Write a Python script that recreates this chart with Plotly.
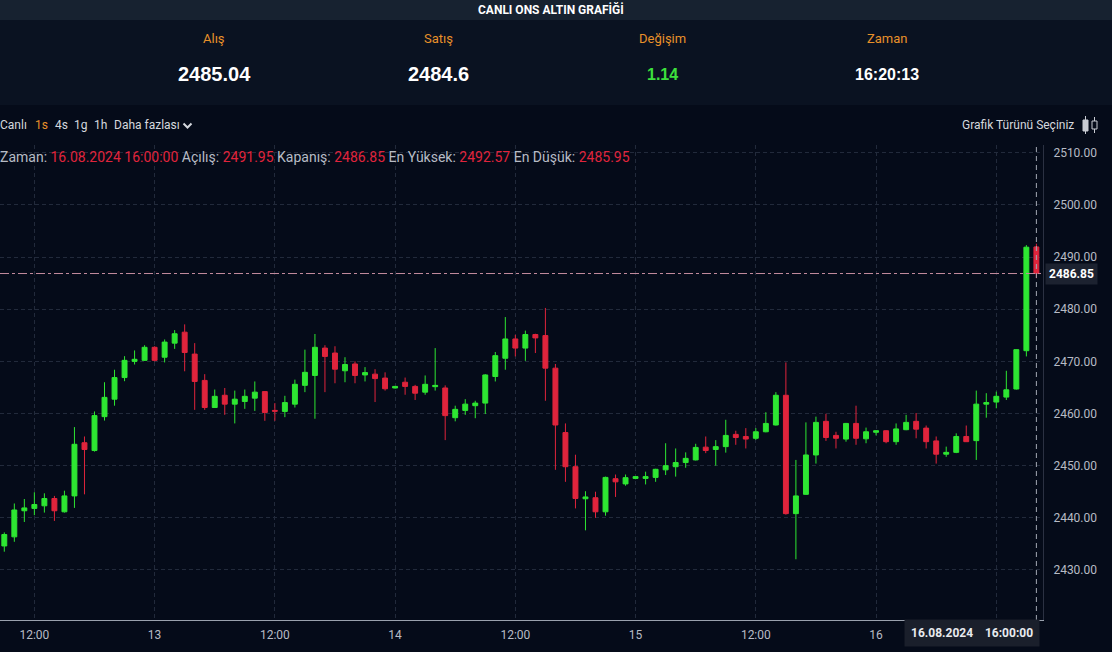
import plotly.graph_objects as go
import pandas as pd

W, H = 1112, 652

# ---------------- data ----------------
times = pd.date_range("2024-08-12 09:00", periods=104, freq="h")

opens = [2434.6, 2436.35, 2441.35, 2441.8, 2442.3, 2443.7, 2441.15, 2444.2, 2454.4, 2452.9,
         2459.4, 2462.75, 2466.9, 2470.0, 2470.2, 2472.7, 2470.8, 2473.5, 2475.6, 2471.4,
         2466.35, 2461.15, 2463.5, 2461.8, 2462.3, 2462.95, 2464.2, 2460.6, 2460.4, 2461.8,
         2465.4, 2467.3, 2472.55, 2471.6, 2468.2, 2469.5, 2467.4, 2467.55, 2466.8, 2464.9,
         2466.0, 2465.2, 2464.1, 2465.15, 2464.9, 2459.2, 2460.6, 2461.5, 2462.0, 2467.1,
         2470.6, 2474.3, 2472.55, 2475.15, 2474.95, 2468.7, 2456.35, 2449.8, 2443.65, 2443.85,
         2441.15, 2447.5, 2446.5, 2447.55, 2447.55, 2447.75, 2449.2, 2449.8, 2450.6, 2451.1,
         2453.55, 2453.1, 2453.65, 2456.0, 2455.6, 2455.25, 2456.5, 2457.8, 2463.5, 2440.8,
         2444.5, 2452.05, 2458.5, 2455.8, 2455.1, 2458.1, 2455.15, 2456.4, 2456.7, 2454.6,
         2456.9, 2458.5, 2457.2, 2454.75, 2452.2, 2452.55, 2455.6, 2454.8, 2461.8, 2462.2,
         2463.15, 2464.7, 2472.05, 2491.95]
highs = [2437.2, 2442.75, 2443.6, 2444.9, 2444.7, 2444.2, 2445.2, 2457.4, 2455.6, 2460.4,
         2466.0, 2468.4, 2471.0, 2472.1, 2473.1, 2472.9, 2474.2, 2476.0, 2477.1, 2473.5,
         2467.55, 2464.6, 2464.9, 2464.4, 2464.6, 2466.15, 2464.3, 2462.0, 2463.4, 2466.5,
         2472.25, 2475.25, 2473.1, 2472.9, 2470.8, 2470.0, 2468.9, 2468.5, 2467.9, 2465.3,
         2466.9, 2465.5, 2467.3, 2472.55, 2465.4, 2461.5, 2462.75, 2462.45, 2467.55, 2471.8,
         2478.5, 2475.1, 2475.9, 2475.3, 2480.25, 2469.5, 2458.1, 2452.1, 2445.1, 2445.0,
         2447.9, 2448.3, 2448.3, 2448.0, 2448.85, 2449.4, 2454.3, 2453.3, 2452.55, 2454.2,
         2455.6, 2454.9, 2458.8, 2456.7, 2457.2, 2457.2, 2460.25, 2464.1, 2469.8, 2451.1,
         2458.3, 2459.4, 2459.95, 2456.5, 2458.2, 2461.5, 2457.3, 2456.8, 2456.8, 2458.1,
         2459.75, 2460.1, 2457.7, 2455.6, 2453.65, 2456.2, 2457.7, 2464.4, 2463.9, 2464.2,
         2468.2, 2472.3, 2492.3, 2492.57]
lows = [2433.5, 2435.4, 2439.2, 2440.5, 2441.0, 2439.4, 2441.0, 2441.9, 2444.5, 2452.7,
        2458.65, 2461.5, 2466.2, 2469.4, 2470.1, 2470.0, 2469.8, 2472.4, 2468.1, 2460.7,
        2460.7, 2461.1, 2459.75, 2458.1, 2460.9, 2460.5, 2458.6, 2458.6, 2459.3, 2461.15,
        2464.1, 2459.0, 2464.1, 2465.8, 2466.0, 2465.8, 2466.15, 2462.2, 2464.4, 2464.8,
        2463.6, 2462.6, 2463.6, 2464.4, 2454.9, 2458.5, 2459.75, 2459.1, 2459.9, 2466.15,
        2468.4, 2470.95, 2470.1, 2471.6, 2462.45, 2449.2, 2446.9, 2441.8, 2437.6, 2440.0,
        2440.4, 2444.0, 2446.15, 2447.4, 2446.4, 2446.9, 2448.2, 2447.9, 2449.6, 2451.0,
        2452.4, 2450.0, 2452.5, 2454.0, 2453.3, 2454.95, 2456.4, 2457.7, 2440.6, 2432.05,
        2444.4, 2450.4, 2454.75, 2453.3, 2454.6, 2454.0, 2454.3, 2455.8, 2454.3, 2454.0,
        2456.8, 2455.25, 2453.3, 2450.4, 2451.7, 2452.4, 2454.6, 2451.1, 2459.2, 2461.0,
        2462.6, 2464.6, 2470.95, 2485.95]
closes = [2436.8, 2441.5, 2441.9, 2442.55, 2443.7, 2441.35, 2444.2, 2454.1, 2453.1, 2459.6,
          2463.1, 2466.9, 2470.2, 2470.4, 2472.7, 2470.2, 2473.7, 2475.3, 2471.7, 2466.15,
          2461.15, 2463.3, 2461.8, 2462.75, 2463.3, 2464.1, 2460.2, 2460.45, 2462.1, 2465.6,
          2467.9, 2472.7, 2470.95, 2468.5, 2469.4, 2467.3, 2467.85, 2466.7, 2464.75, 2465.2,
          2465.2, 2463.9, 2465.6, 2465.4, 2459.6, 2460.8, 2461.8, 2462.0, 2467.4, 2471.1,
          2474.3, 2472.55, 2475.15, 2474.5, 2468.7, 2457.8, 2449.8, 2443.7, 2444.0, 2441.15,
          2447.75, 2446.9, 2447.7, 2447.9, 2447.9, 2449.3, 2450.0, 2450.6, 2451.4, 2453.5,
          2452.9, 2453.65, 2455.8, 2455.4, 2455.1, 2456.5, 2458.1, 2463.5, 2440.8, 2444.2,
          2452.05, 2458.3, 2455.4, 2455.25, 2458.1, 2455.25, 2456.5, 2456.7, 2454.6, 2457.05,
          2458.3, 2457.0, 2454.6, 2452.2, 2452.55, 2455.6, 2454.6, 2461.8, 2462.1, 2463.3,
          2464.55, 2472.25, 2491.9, 2486.85]

# last tick (16th 12:00) is hidden behind the crosshair time label in the reference
x_tick_vals = ["2024-08-12 12:00", "2024-08-13 00:00", "2024-08-13 12:00", "2024-08-14 00:00",
               "2024-08-14 12:00", "2024-08-15 00:00", "2024-08-15 12:00", "2024-08-16 00:00",
               "2024-08-16 12:00"]
x_tick_text = ["12:00", "13", "12:00", "14", "12:00", "15", "12:00", "16", ""]
price_ticks = [2430, 2440, 2450, 2460, 2470, 2480, 2490, 2500, 2510]

header_labels = ["Alış", "Satış", "Değişim", "Zaman"]
header_values = ["2485.04", "2484.6", "1.14", "16:20:13"]
header_title = "CANLI ONS ALTIN GRAFİĞİ"
toolbar_items = ["Canlı", "1s", "4s", "1g", "1h", "Daha fazlası"]

last_time_text = "16.08.2024 16:00:00"
last_open, last_close, last_high, last_low = "2491.95", "2486.85", "2492.57", "2485.95"

# ---------------- style ----------------
BG = "#050b19"
HEADER_BG = "#172230"
INFO_BG = "#0a1221"
GREEN = "#2ee632"
RED = "#e0243c"
ORANGE = "#e8912a"
TXT = "#b7bbc5"
GRID = "#222a3b"
FONT = "Roboto, Liberation Sans, DejaVu Sans, sans-serif"
NARROW = "Liberation Sans Narrow, Roboto, sans-serif"


def X(px):
    return px / W


def Y(py):
    return 1 - py / H


plot_left, plot_right = 0, 1043
plot_top, plot_bottom = 145, 620

fig = go.Figure(go.Candlestick(
    x=times, open=opens, high=highs, low=lows, close=closes,
    increasing=dict(line=dict(color=GREEN, width=1), fillcolor=GREEN),
    decreasing=dict(line=dict(color=RED, width=1), fillcolor=RED),
    whiskerwidth=0, showlegend=False, hoverinfo="skip",
))

t0 = times[0]
x_range = [t0 - pd.Timedelta(hours=0.43), t0 + pd.Timedelta(hours=103.66)]

fig.update_layout(
    width=W, height=H,
    margin=dict(l=0, r=0, t=0, b=0),
    paper_bgcolor=BG, plot_bgcolor="rgba(0,0,0,0)",
    font=dict(family=FONT, color=TXT, size=12),
    xaxis=dict(
        domain=[X(plot_left), X(plot_right)], type="date", range=x_range,
        rangeslider=dict(visible=False),
        tickmode="array", tickvals=x_tick_vals, ticktext=x_tick_text,
        showgrid=True, gridcolor=GRID, griddash="4px,3px", gridwidth=1,
        showline=True, linecolor="#9aa1ad", linewidth=1,
        ticks="", ticklabelstandoff=4, tickfont=dict(size=12, color=TXT, family=FONT),
        zeroline=False, fixedrange=True,
    ),
    yaxis=dict(
        domain=[Y(plot_bottom), Y(plot_top)], side="right", range=[2420.4, 2511.5],
        tickmode="array", tickvals=price_ticks, tickformat=".2f",
        showgrid=True, gridcolor=GRID, griddash="4px,3px", gridwidth=1,
        showline=True, linecolor="#2b3142", linewidth=1,
        ticks="", ticklabelstandoff=7, tickfont=dict(size=12, color=TXT, family=FONT),
        zeroline=False, fixedrange=True,
    ),
)

shapes = [
    # header bar
    dict(type="rect", xref="paper", yref="paper", x0=0, x1=1, y0=Y(20), y1=1,
         fillcolor=HEADER_BG, line=dict(width=0), layer="below"),
    # info panel
    dict(type="rect", xref="paper", yref="paper", x0=0, x1=1, y0=Y(105), y1=Y(20),
         fillcolor=INFO_BG, line=dict(width=0), layer="below"),
    # crosshair vertical
    dict(type="line", xref="x", yref="paper", x0=times[-1], x1=times[-1],
         y0=Y(plot_bottom), y1=Y(plot_top), line=dict(color="#a3a8b3", width=1, dash="5px,4px")),
    # crosshair horizontal at last close
    dict(type="line", xref="paper", yref="y", x0=X(plot_left), x1=X(plot_right),
         y0=float(last_close), y1=float(last_close),
         line=dict(color="#c48c9e", width=1, dash="dashdot")),
    # chevron next to "Daha fazlası"
    dict(type="path", xref="paper", yref="paper",
         path=f"M {X(183.5)},{Y(123.5)} L {X(187.5)},{Y(127.5)} L {X(191.5)},{Y(123.5)}",
         line=dict(color="#d5d8de", width=2)),
    # chart-type icon: filled candle
    dict(type="line", xref="paper", yref="paper", x0=X(1085.5), x1=X(1085.5), y0=Y(116), y1=Y(134),
         line=dict(color="#c9ccd3", width=1)),
    dict(type="rect", xref="paper", yref="paper", x0=X(1083), x1=X(1088), y0=Y(131), y1=Y(120),
         fillcolor="#c9ccd3", line=dict(color="#c9ccd3", width=1)),
    # chart-type icon: hollow candle
    dict(type="line", xref="paper", yref="paper", x0=X(1094.5), x1=X(1094.5), y0=Y(117), y1=Y(133),
         line=dict(color="#c9ccd3", width=1)),
    dict(type="rect", xref="paper", yref="paper", x0=X(1092), x1=X(1097), y0=Y(129), y1=Y(121),
         fillcolor=BG, line=dict(color="#c9ccd3", width=1)),
]
fig.update_layout(shapes=shapes)

ann = []
# title
ann.append(dict(x=X(551), y=Y(9), xref="paper", yref="paper", xanchor="center", yanchor="middle",
                text=f"<b>{header_title}</b>", showarrow=False,
                font=dict(family=NARROW, size=12, color="#ffffff")))
label_x = [214, 438, 662, 887]
for lx, lab, val in zip(label_x, header_labels, header_values):
    ann.append(dict(x=X(lx), y=Y(38), xref="paper", yref="paper", xanchor="center", yanchor="middle",
                    text=lab, showarrow=False, font=dict(family=FONT, size=13, color=ORANGE)))
    col = "#3de03d" if lab == "Değişim" else "#ffffff"
    size = 16 if lab in ("Değişim", "Zaman") else 20
    ann.append(dict(x=X(lx), y=Y(74), xref="paper", yref="paper", xanchor="center", yanchor="middle",
                    text=f"<b>{val}</b>", showarrow=False,
                    font=dict(family="Liberation Sans, Roboto, sans-serif", size=size, color=col)))

# toolbar items
toolbar_x = [-2, 33, 53, 72, 92, 112]
for tx, item in zip(toolbar_x, toolbar_items):
    col = ORANGE if item == "1s" else "#d5d8de"
    ann.append(dict(x=X(tx), y=Y(125), xref="paper", yref="paper", xanchor="left", yanchor="middle",
                    text=item, showarrow=False, font=dict(family=FONT, size=12, color=col)))
ann.append(dict(x=X(1076), y=Y(125), xref="paper", yref="paper", xanchor="right", yanchor="middle",
                text="Grafik Türünü Seçiniz", showarrow=False,
                font=dict(family=FONT, size=12, color="#d5d8de")))


# OHLC legend row
def red(s):
    return f"<span style='color:{RED}'>{s}</span>"


legend_text = (f"Zaman: {red(last_time_text)} Açılış: {red(last_open)} Kapanış: {red(last_close)} "
               f"En Yüksek: {red(last_high)} En Düşük: {red(last_low)}")
ann.append(dict(x=X(-2), y=Y(157), xref="paper", yref="paper", xanchor="left", yanchor="middle",
                text=legend_text, showarrow=False, font=dict(family=FONT, size=14, color=TXT)))

# last price label on y axis
ann.append(dict(x=X(1045), y=float(last_close), xref="paper", yref="y", xanchor="left", yanchor="middle",
                text=f"<b>{last_close}</b>", showarrow=False, bgcolor="#1c2230",
                borderpad=3, font=dict(family=FONT, size=12, color="#ffffff")))
# crosshair time label
ann.append(dict(x=X(972), y=Y(633), xref="paper", yref="paper", xanchor="center", yanchor="middle",
                text="<b>16.08.2024&nbsp;&nbsp;&nbsp; 16:00:00</b>", showarrow=False,
                bgcolor="#1a1f2b", borderpad=6, font=dict(family=FONT, size=12, color="#e8eaee")))

fig.update_layout(annotations=ann)

fig.write_html("out.html", config={"displayModeBar": False},
               post_script="document.body.style.margin='0';document.body.style.overflow='hidden';")
